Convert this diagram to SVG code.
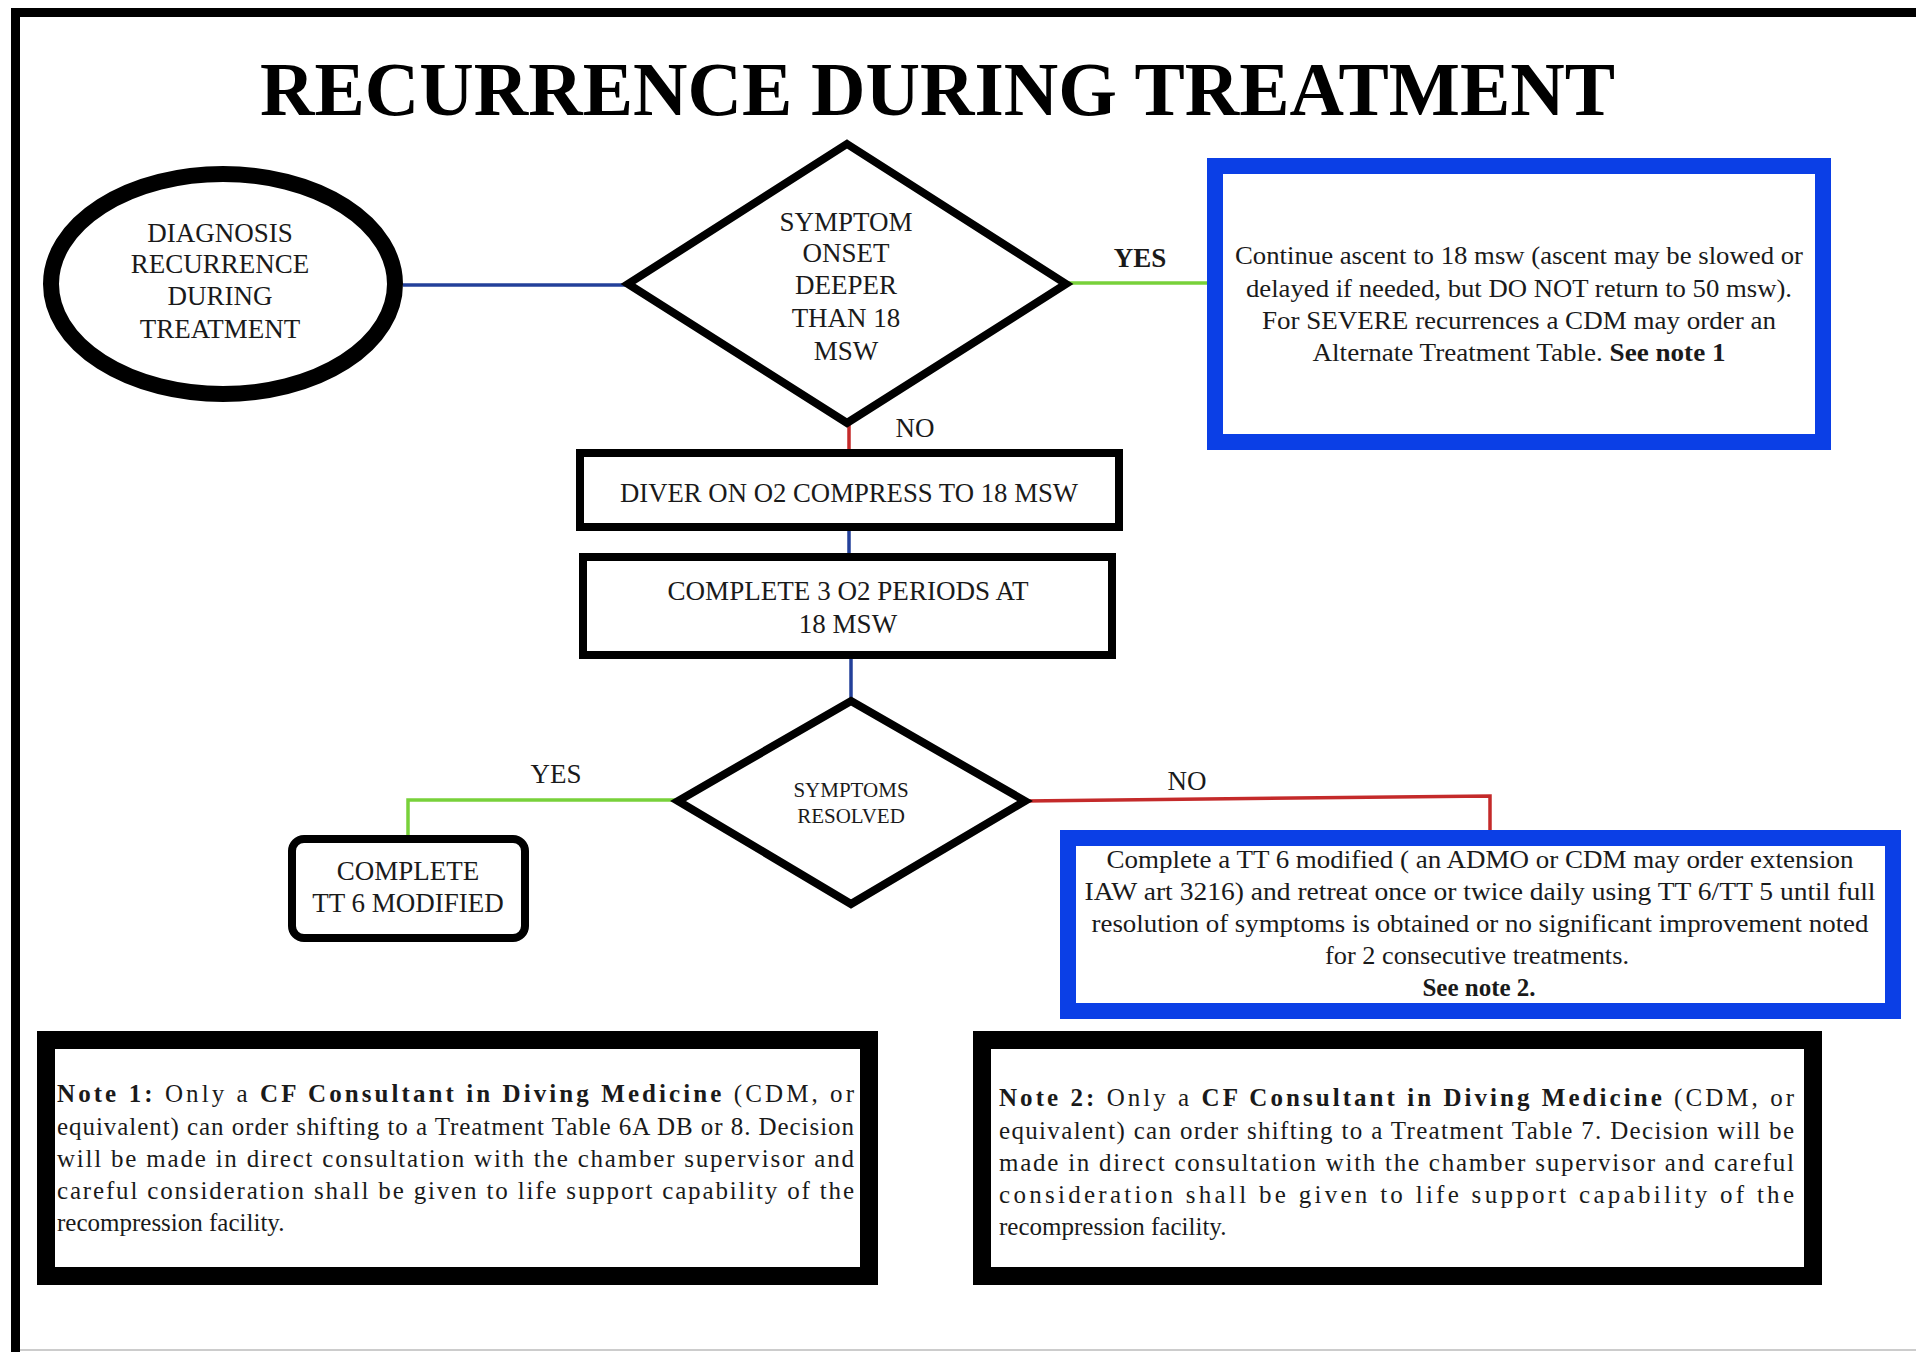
<svg xmlns="http://www.w3.org/2000/svg" width="1916" height="1352" viewBox="0 0 1916 1352">
<style>
text{font-family:"Liberation Serif","Times New Roman",serif;fill:#1a1a1a}
.c{text-anchor:middle}
.cap{font-size:27px}
.body{font-size:25px}
.b{font-weight:bold}
.blk{fill:#fff;stroke:#000}
.blue{fill:#fff;stroke:#0b3fe6;stroke-width:16}
.conn{fill:none;stroke-width:3.5}
</style>
<rect width="1916" height="1352" fill="#fff"/>
<rect x="15.5" y="12.5" width="1930" height="1360" fill="none" stroke="#000" stroke-width="9"/>
<line x1="20" y1="1350" x2="1916" y2="1350" stroke="#ccc" stroke-width="2"/>
<text id="title" class="b" x="260" y="115" font-size="76" textLength="1355" lengthAdjust="spacingAndGlyphs" style="fill:#000">RECURRENCE DURING TREATMENT</text>

<g id="connectors">
<line class="conn" x1="403" y1="285" x2="629" y2="285" stroke="#23409a"/>
<line class="conn" x1="1066" y1="283" x2="1208" y2="283" stroke="#78d13a" stroke-width="4"/>
<line class="conn" x1="849" y1="423" x2="849" y2="450" stroke="#c42a2a"/>
<line class="conn" x1="849" y1="531" x2="849" y2="553" stroke="#23409a"/>
<line class="conn" x1="851" y1="659" x2="851" y2="701" stroke="#23409a"/>
<path class="conn" d="M678 800 H408 V836" stroke="#78d13a" stroke-width="4"/>
<path class="conn" d="M1025 801 L1490 796 V831" stroke="#c42a2a"/>
<text class="c cap b" x="1140" y="267">YES</text>
<text class="c cap" x="915" y="437">NO</text>
<text class="c cap" x="556" y="783">YES</text>
<text class="c cap" x="1187" y="790">NO</text>
</g>

<g id="start">
<ellipse cx="223" cy="284" rx="172" ry="110" fill="#fff" stroke="#000" stroke-width="16"/>
<text class="c cap" x="220" y="242">DIAGNOSIS</text>
<text class="c cap" x="220" y="273">RECURRENCE</text>
<text class="c cap" x="220" y="305">DURING</text>
<text class="c cap" x="220" y="338">TREATMENT</text>
</g>

<g id="decision1">
<polygon class="blk" stroke-width="8" points="847,144 1066,284 847,423 628,284"/>
<text class="c cap" x="846" y="231">SYMPTOM</text>
<text class="c cap" x="846" y="262">ONSET</text>
<text class="c cap" x="846" y="294">DEEPER</text>
<text class="c cap" x="846" y="327">THAN 18</text>
<text class="c cap" x="846" y="360">MSW</text>
</g>

<g id="ascent">
<rect class="blue" x="1215" y="166" width="608" height="276"/>
<text class="c body" x="1519" y="264" textLength="568" lengthAdjust="spacingAndGlyphs">Continue ascent to 18 msw (ascent may be slowed or</text>
<text class="c body" x="1519" y="297" textLength="546" lengthAdjust="spacingAndGlyphs">delayed if needed, but DO NOT return to 50 msw).</text>
<text class="c body" x="1519" y="329" textLength="514" lengthAdjust="spacingAndGlyphs">For SEVERE recurrences a CDM may order an</text>
<text class="c body" x="1519" y="361" textLength="413" lengthAdjust="spacingAndGlyphs">Alternate Treatment Table. <tspan class="b">See note 1</tspan></text>
</g>

<g id="compress">
<rect class="blk" stroke-width="8" x="580" y="453" width="539" height="74"/>
<text class="c cap" x="849" y="502" textLength="458" lengthAdjust="spacingAndGlyphs">DIVER ON O2 COMPRESS TO 18 MSW</text>
</g>

<g id="periods">
<rect class="blk" stroke-width="8" x="583" y="557" width="529" height="98"/>
<text class="c cap" x="848" y="600" textLength="361" lengthAdjust="spacingAndGlyphs">COMPLETE 3 O2 PERIODS AT</text>
<text class="c cap" x="848" y="633">18 MSW</text>
</g>

<g id="decision2">
<polygon class="blk" stroke-width="8" points="851,701 1025,801 851,904 678,801"/>
<text class="c" font-size="21" x="851" y="797">SYMPTOMS</text>
<text class="c" font-size="21" x="851" y="823">RESOLVED</text>
</g>

<g id="complete">
<rect class="blk" stroke-width="8" x="292" y="839" width="233" height="99" rx="12"/>
<text class="c cap" x="408" y="880">COMPLETE</text>
<text class="c cap" x="408" y="912">TT 6 MODIFIED</text>
</g>

<g id="retreat">
<rect class="blue" x="1068" y="838" width="825" height="173"/>
<text class="c body" x="1480" y="868" textLength="747" lengthAdjust="spacingAndGlyphs">Complete a TT 6 modified ( an ADMO or CDM may order extension</text>
<text class="c body" x="1480" y="900" textLength="791" lengthAdjust="spacingAndGlyphs">IAW art 3216) and retreat once or twice daily using TT 6/TT 5 until full</text>
<text class="c body" x="1480" y="932" textLength="777" lengthAdjust="spacingAndGlyphs">resolution of symptoms is obtained or no significant improvement noted</text>
<text class="c body" x="1477" y="964" textLength="304" lengthAdjust="spacingAndGlyphs">for 2 consecutive treatments.</text>
<text class="c body b" x="1479" y="996">See note 2.</text>
</g>

<g id="note1">
<rect class="blk" stroke-width="18" x="46" y="1040" width="823" height="236"/>
<text class="body" x="57" y="1102" textLength="797" lengthAdjust="spacing"><tspan class="b">Note 1:</tspan> Only a <tspan class="b">CF Consultant in Diving Medicine</tspan> (CDM, or</text>
<text class="body" x="57" y="1135" textLength="797" lengthAdjust="spacing">equivalent) can order shifting to a Treatment Table 6A DB or 8. Decision</text>
<text class="body" x="57" y="1167" textLength="797" lengthAdjust="spacing">will be made in direct consultation with the chamber supervisor and</text>
<text class="body" x="57" y="1199" textLength="797" lengthAdjust="spacing">careful consideration shall be given to life support capability of the</text>
<text class="body" x="57" y="1231">recompression facility.</text>
</g>

<g id="note2">
<rect class="blk" stroke-width="18" x="982" y="1040" width="831" height="236"/>
<text class="body" x="999" y="1106" textLength="795" lengthAdjust="spacing"><tspan class="b">Note 2:</tspan> Only a <tspan class="b">CF Consultant in Diving Medicine</tspan> (CDM, or</text>
<text class="body" x="999" y="1139" textLength="795" lengthAdjust="spacing">equivalent) can order shifting to a Treatment Table 7. Decision will be</text>
<text class="body" x="999" y="1171" textLength="795" lengthAdjust="spacing">made in direct consultation with the chamber supervisor and careful</text>
<text class="body" x="999" y="1203" textLength="795" lengthAdjust="spacing">consideration shall be given to life support capability of the</text>
<text class="body" x="999" y="1235">recompression facility.</text>
</g>
</svg>
